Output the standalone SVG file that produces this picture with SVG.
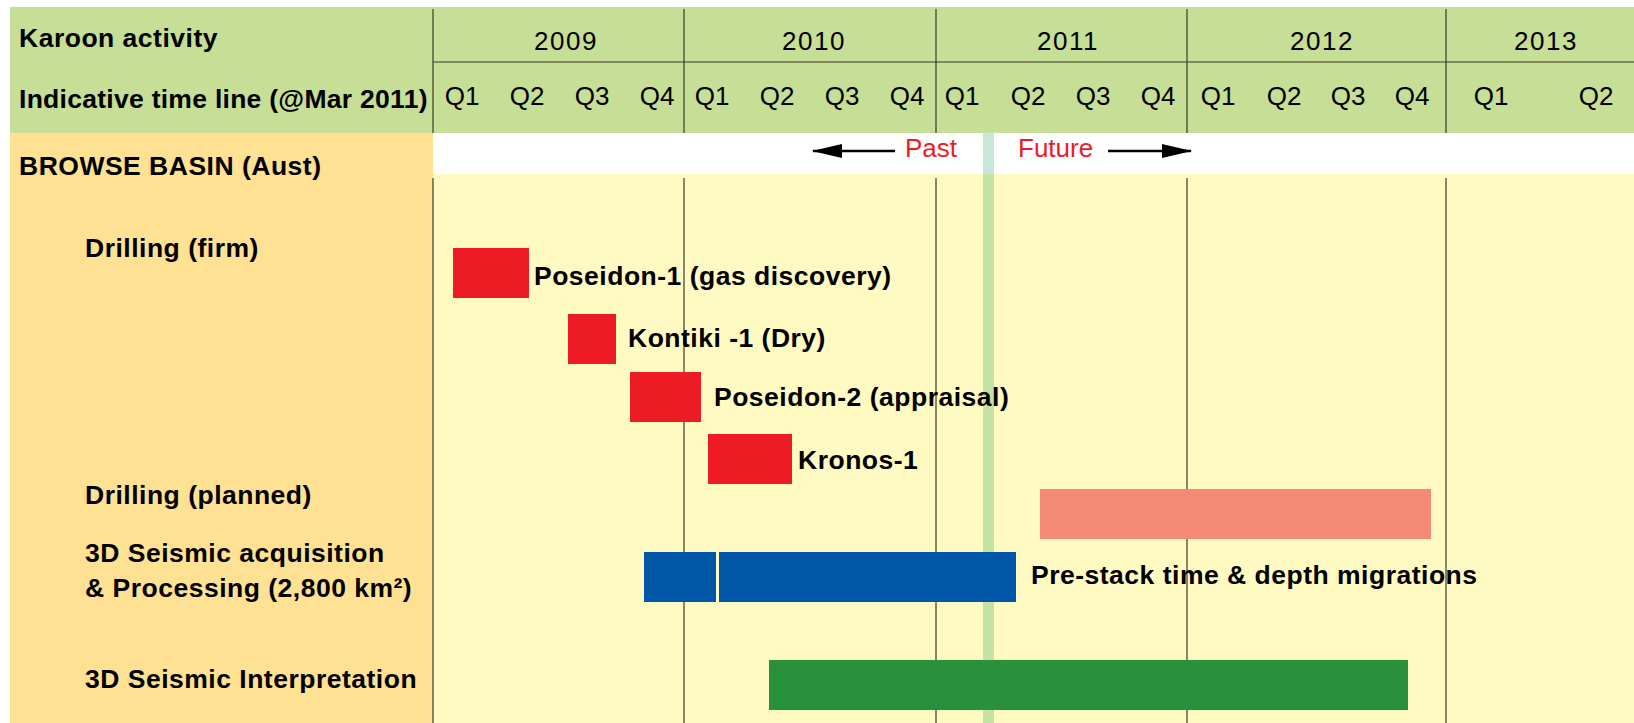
<svg xmlns="http://www.w3.org/2000/svg" width="1634" height="723" viewBox="0 0 1634 723">
  <defs>
    <style>
      .b { font-family: "Liberation Sans", Arial, sans-serif; font-weight: bold; font-size: 26.5px; letter-spacing: 0.5px; fill: #000; }
      .r { font-family: "Liberation Sans", Arial, sans-serif; font-size: 26px; fill: #000; text-anchor: middle; }
      .yr { letter-spacing: 1.5px; }
      .red { font-family: "Liberation Sans", Arial, sans-serif; font-size: 26px; fill: #ED1C24; }
      .grid { stroke: #3a3a2a; stroke-width: 1.2; }
      .arr { stroke: #000; stroke-width: 2.6; fill: none; }
    </style>
    <marker id="ah" viewBox="0 0 30 14" refX="29" refY="7" markerWidth="30" markerHeight="14" markerUnits="userSpaceOnUse" orient="auto">
      <path d="M0,0 L30,7 L0,14 Z" fill="#000"/>
    </marker>
  </defs>

  <rect x="0" y="0" width="1634" height="723" fill="#FFFFFF"/>

  <g id="header">
    <rect x="10" y="7" width="1624" height="126" fill="#C6DE95"/>
    <line class="grid" x1="433" y1="62" x2="1634" y2="62"/>
    <line class="grid" x1="433" y1="9" x2="433" y2="133"/>
    <line class="grid" x1="684" y1="9" x2="684" y2="133"/>
    <line class="grid" x1="936" y1="9" x2="936" y2="133"/>
    <line class="grid" x1="1187" y1="9" x2="1187" y2="133"/>
    <line class="grid" x1="1446" y1="9" x2="1446" y2="133"/>
    <text class="b" x="19" y="47">Karoon activity</text>
    <text class="b" x="19" y="108" textLength="409" lengthAdjust="spacing">Indicative time line (@Mar 2011)</text>
    <text class="r yr" x="566" y="50">2009</text>
    <text class="r yr" x="814" y="50">2010</text>
    <text class="r yr" x="1068" y="50">2011</text>
    <text class="r yr" x="1322" y="50">2012</text>
    <text class="r yr" x="1546" y="50">2013</text>
    <text class="r" x="462" y="105">Q1</text>
    <text class="r" x="527" y="105">Q2</text>
    <text class="r" x="592" y="105">Q3</text>
    <text class="r" x="657" y="105">Q4</text>
    <text class="r" x="712" y="105">Q1</text>
    <text class="r" x="777" y="105">Q2</text>
    <text class="r" x="842" y="105">Q3</text>
    <text class="r" x="907" y="105">Q4</text>
    <text class="r" x="962" y="105">Q1</text>
    <text class="r" x="1028" y="105">Q2</text>
    <text class="r" x="1093" y="105">Q3</text>
    <text class="r" x="1158" y="105">Q4</text>
    <text class="r" x="1218" y="105">Q1</text>
    <text class="r" x="1284" y="105">Q2</text>
    <text class="r" x="1348" y="105">Q3</text>
    <text class="r" x="1412" y="105">Q4</text>
    <text class="r" x="1491" y="105">Q1</text>
    <text class="r" x="1596" y="105">Q2</text>
  </g>

  <g id="body">
    <rect x="10" y="133" width="423" height="590" fill="#FFE194"/>
    <rect x="433" y="133" width="1201" height="41" fill="#FFFFFF"/>
    <rect x="433" y="174" width="1201" height="549" fill="#FFF9C2"/>
    <rect x="983" y="133" width="11" height="41" fill="#C7E8D8"/>
    <rect x="983" y="174" width="11" height="549" fill="#C6E3A6"/>
    <line class="grid" x1="433" y1="178" x2="433" y2="723"/>
    <line class="grid" x1="684" y1="178" x2="684" y2="723"/>
    <line class="grid" x1="936" y1="178" x2="936" y2="723"/>
    <line class="grid" x1="1187" y1="178" x2="1187" y2="723"/>
    <line class="grid" x1="1446" y1="178" x2="1446" y2="723"/>
  </g>

  <g id="row-browse">
    <text class="b" x="19" y="175">BROWSE BASIN (Aust)</text>
  </g>

  <g id="time-direction">
    <text class="red" x="905" y="157">Past</text>
    <text class="red" x="1018" y="157">Future</text>
  </g>

  <g id="connectors">
    <line class="arr" x1="895" y1="151" x2="813" y2="151" marker-end="url(#ah)"/>
    <line class="arr" x1="1108" y1="151" x2="1191" y2="151" marker-end="url(#ah)"/>
  </g>

  <g id="row-drilling-firm">
    <text class="b" x="85" y="257">Drilling (firm)</text>
  </g>

  <g id="poseidon-1">
    <rect x="453" y="248" width="76" height="50" fill="#ED1C24"/>
    <text class="b" x="534" y="285">Poseidon-1 (gas discovery)</text>
  </g>
  <g id="kontiki-1">
    <rect x="568" y="314" width="48" height="50" fill="#ED1C24"/>
    <text class="b" x="628" y="347">Kontiki -1 (Dry)</text>
  </g>
  <g id="poseidon-2">
    <rect x="630" y="372" width="71" height="50" fill="#ED1C24"/>
    <text class="b" x="714" y="406">Poseidon-2 (appraisal)</text>
  </g>
  <g id="kronos-1">
    <rect x="708" y="434" width="84" height="50" fill="#ED1C24"/>
    <text class="b" x="798" y="469">Kronos-1</text>
  </g>

  <g id="drilling-planned">
    <text class="b" x="85" y="504">Drilling (planned)</text>
    <rect x="1040" y="489" width="391" height="50" fill="#F58B77"/>
  </g>

  <g id="seismic-acquisition">
    <text class="b" x="85" y="562">3D Seismic acquisition</text>
    <text class="b" x="85" y="597">&amp; Processing (2,800 km²)</text>
    <rect x="644" y="552" width="72" height="50" fill="#0057A7"/>
    <rect x="719" y="552" width="297" height="50" fill="#0057A7"/>
    <text class="b" x="1031" y="584">Pre-stack time &amp; depth migrations</text>
  </g>

  <g id="seismic-interpretation">
    <text class="b" x="85" y="688">3D Seismic Interpretation</text>
    <rect x="769" y="660" width="639" height="50" fill="#29913B"/>
  </g>
</svg>
